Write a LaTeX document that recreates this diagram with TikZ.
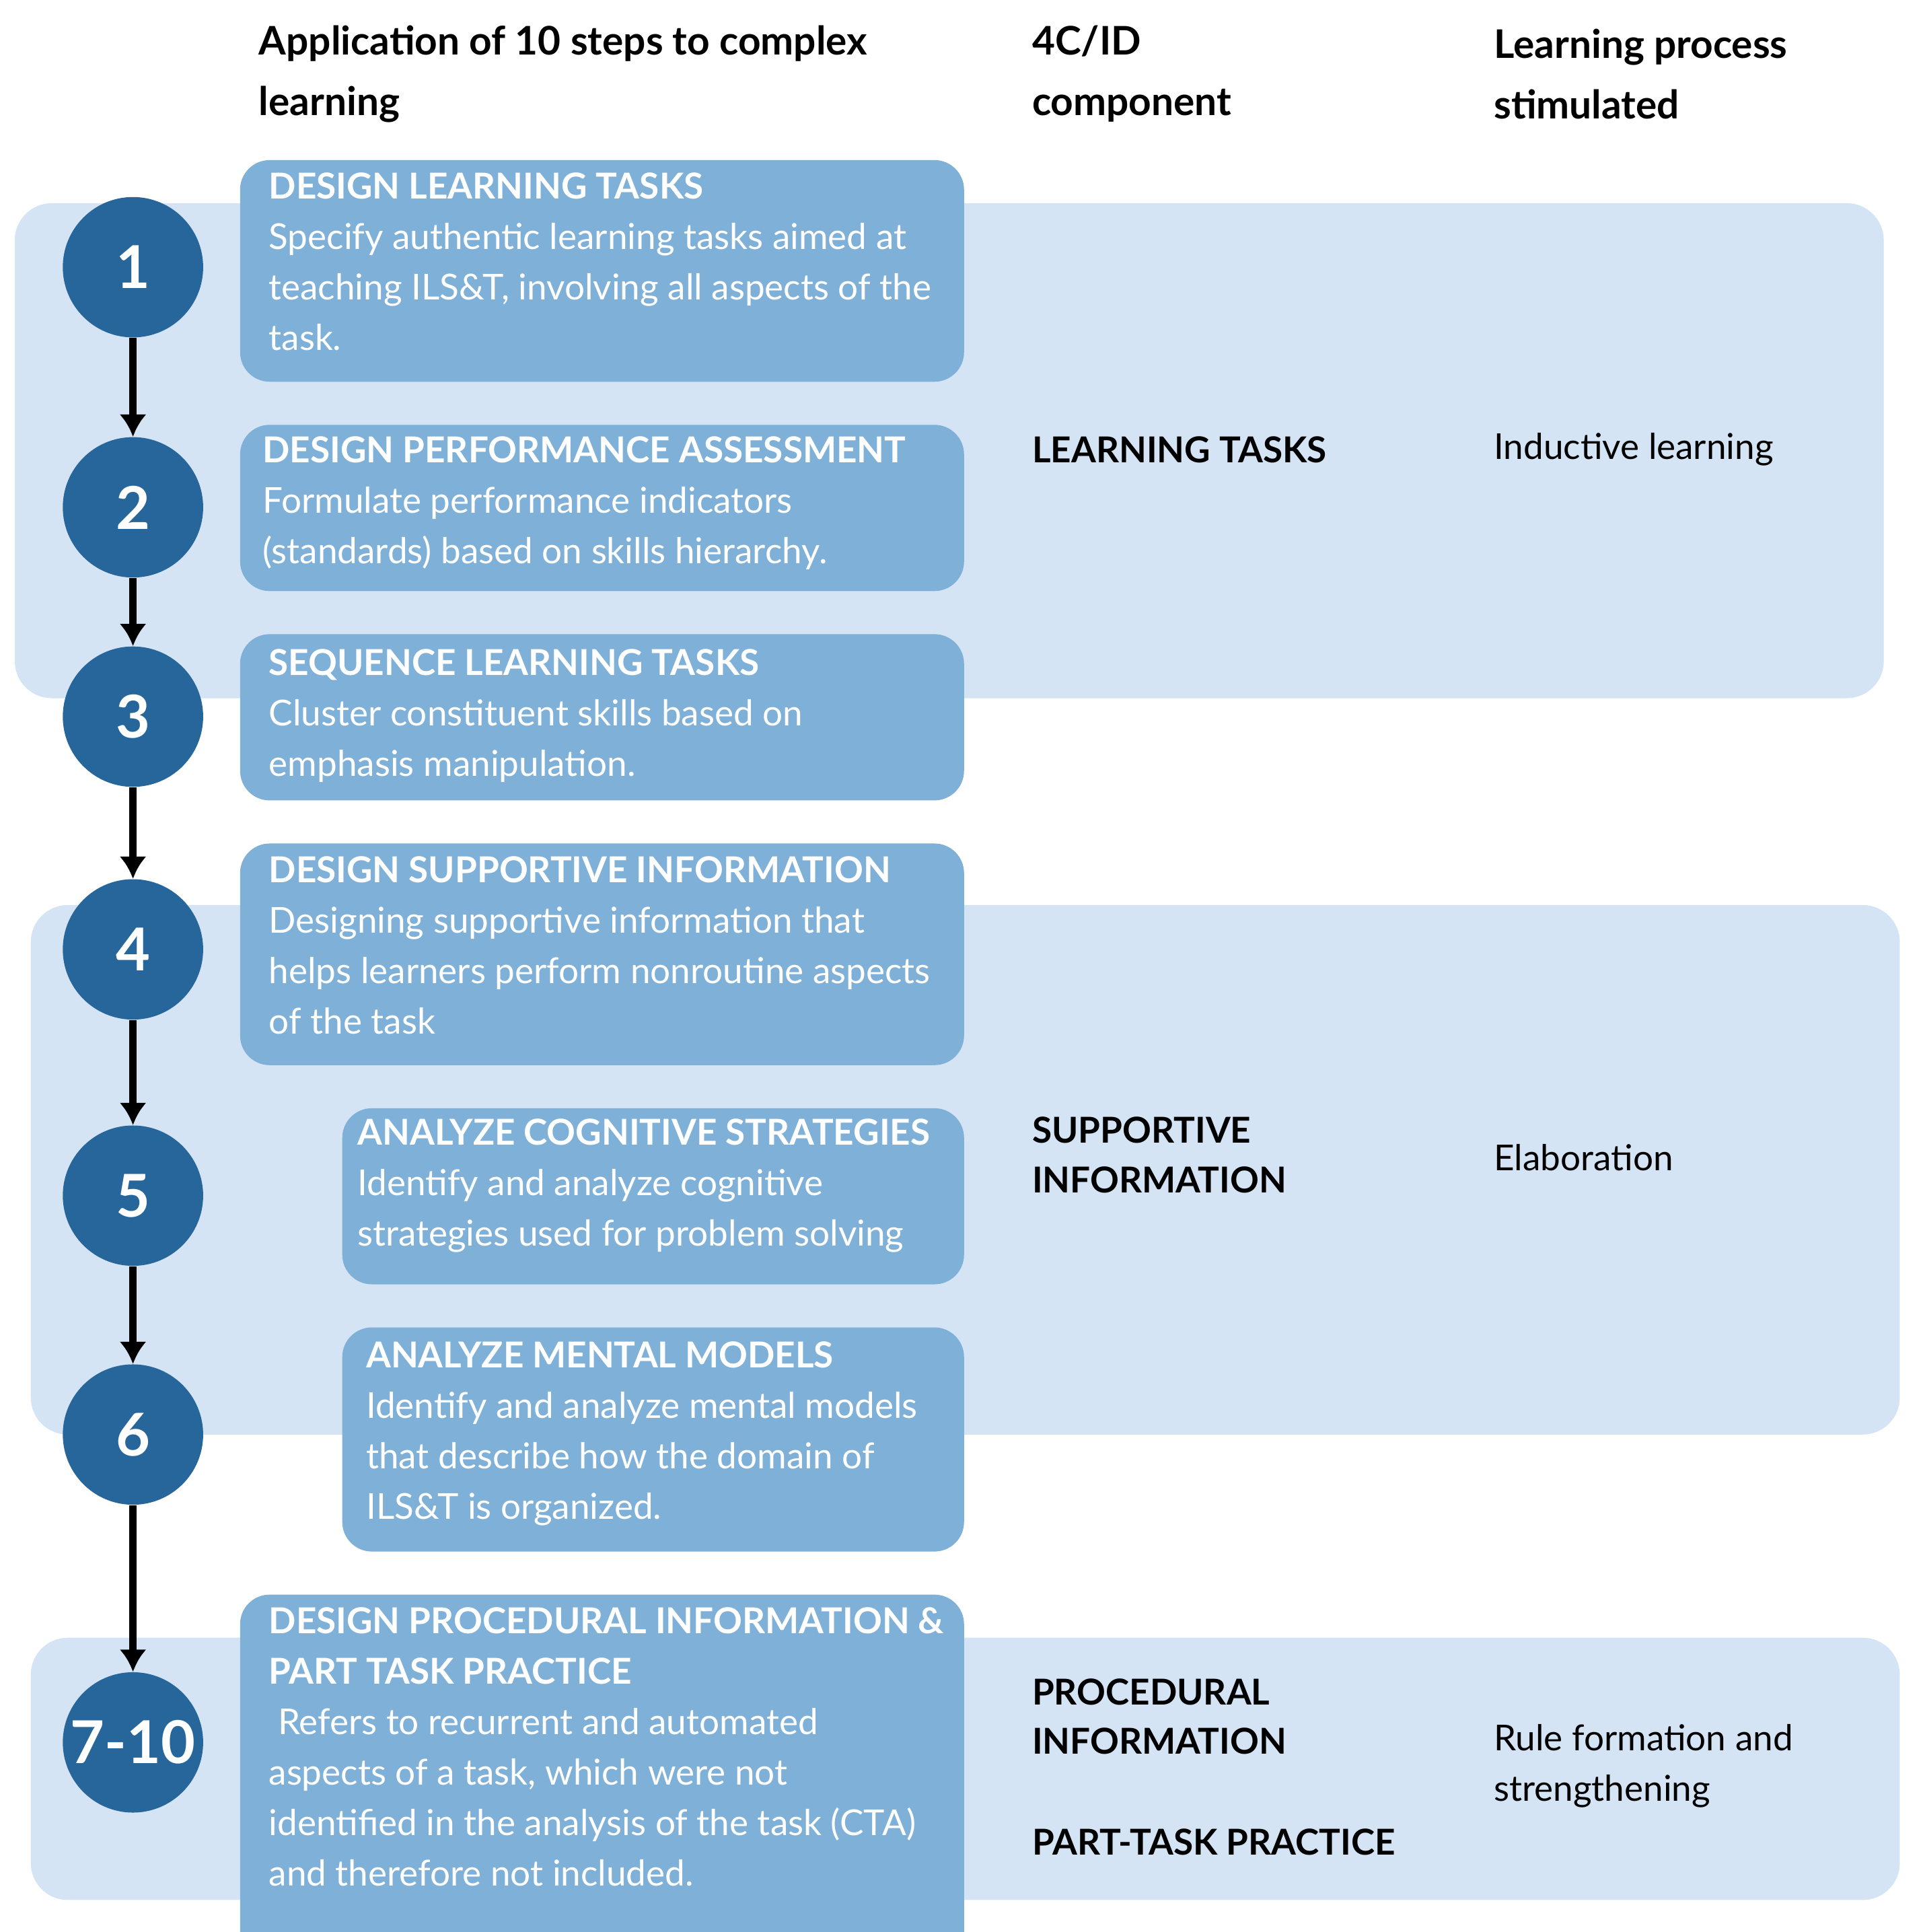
\documentclass[tikz,border=0pt]{standalone}
\usepackage{fontspec}
\setmainfont{Lato}
\definecolor{band}{HTML}{D4E4F5}
\definecolor{box}{HTML}{7FB0D8}
\definecolor{circ}{HTML}{27669A}
\begin{document}
\begin{tikzpicture}[x=0.5pt,y=-0.5pt,
  bandst/.style={fill=band,rounded corners=15pt},
  boxst/.style={fill=box,rounded corners=12pt},
  num/.style={circle,fill=circ,minimum size=57pt,inner sep=0pt,text=white,font=\fontsize{24}{28}\selectfont\bfseries},
  arr/.style={-{Latex[length=9pt,width=11pt]},line width=3pt,black},
  btxt/.style={anchor=north west,inner sep=0pt,align=left,text=white,font=\fontsize{14.5}{20.5}\selectfont},
  hd/.style={anchor=west,inner sep=0pt,align=left,font=\fontsize{16}{24.5}\selectfont\bfseries},
  mid/.style={anchor=west,inner sep=0pt,align=left,font=\fontsize{14.5}{20}\selectfont\bfseries},
  rt/.style={anchor=west,inner sep=0pt,align=left,font=\fontsize{14.5}{20.5}\selectfont}]
\usetikzlibrary{arrows.meta}
\useasboundingbox (0,0) rectangle (1560,1569);
\clip (0,0) rectangle (1560,1569);
\fill[bandst] (12,165) rectangle (1530,567);
\fill[bandst] (25,735) rectangle (1543,1165);
\fill[bandst] (25,1330) rectangle (1543,1543);
\fill[boxst] (195,130) rectangle (783,310);
\fill[boxst] (195,345) rectangle (783,480);
\fill[boxst] (195,515) rectangle (783,650);
\fill[boxst] (195,685) rectangle (783,865);
\fill[boxst] (278,900) rectangle (783,1043);
\fill[boxst] (278,1078) rectangle (783,1260);
\fill[boxst] (195,1295) rectangle (783,1600);
\node[btxt] (t1) at (218,140) {\textbf{DESIGN LEARNING TASKS}\\Specify authentic learning tasks aimed at\\teaching ILS\&T, involving all aspects of the\\task.};
\node[btxt] (t2) at (213,354) {\textbf{DESIGN PERFORMANCE ASSESSMENT}\\Formulate performance indicators\\(standards) based on skills hierarchy.};
\node[btxt] (t3) at (218,527) {\textbf{SEQUENCE LEARNING TASKS}\\Cluster constituent skills based on\\emphasis manipulation.};
\node[btxt] (t4) at (218,695) {\textbf{DESIGN SUPPORTIVE INFORMATION}\\Designing supportive information that\\helps learners perform nonroutine aspects\\of the task};
\node[btxt] (t5) at (290,908) {\textbf{ANALYZE COGNITIVE STRATEGIES}\\Identify and analyze cognitive\\strategies used for problem solving};
\node[btxt] (t6) at (297,1089) {\textbf{ANALYZE MENTAL MODELS}\\Identify and analyze mental models\\that describe how the domain of\\ILS\&T is organized.};
\node[btxt] (t7) at (218,1305) {\textbf{DESIGN PROCEDURAL INFORMATION \&}\\\textbf{PART TASK PRACTICE}\\\ Refers to recurrent and automated\\aspects of a task, which were not\\identified in the analysis of the task (CTA)\\and therefore not included.};
\node[num] (c1) at (108,217) {1};
\node[num] (c2) at (108,412) {2};
\node[num] (c3) at (108,582) {3};
\node[num] (c4) at (108,771) {4};
\node[num] (c5) at (108,971) {5};
\node[num] (c6) at (108,1165) {6};
\node[num] (c7) at (108,1415) {7-10};
\draw[arr] (c1) -- (c2);
\draw[arr] (c2) -- (c3);
\draw[arr] (c3) -- (c4);
\draw[arr] (c4) -- (c5);
\draw[arr] (c5) -- (c6);
\draw[arr] (c6) -- (c7);
\node[hd] (h1) at (210,60) {Application of 10 steps to complex\\learning};
\node[hd] (h2) at (838,60) {4C/ID\\component};
\node[hd] (h3) at (1213,60) {Learning process\\stimulated};
\node[mid] (m1) at (838,365) {LEARNING TASKS};
\node[mid] (m2) at (838,938) {SUPPORTIVE\\INFORMATION};
\node[mid] (m3) at (838,1394) {PROCEDURAL\\INFORMATION};
\node[mid] (m4) at (838,1496) {PART-TASK PRACTICE};
\node[rt] (r1) at (1213,365) {Inductive learning};
\node[rt] (r2) at (1213,940) {Elaboration};
\node[rt] (r3) at (1213,1434) {Rule formation and\\strengthening};
\end{tikzpicture}
\end{document}
